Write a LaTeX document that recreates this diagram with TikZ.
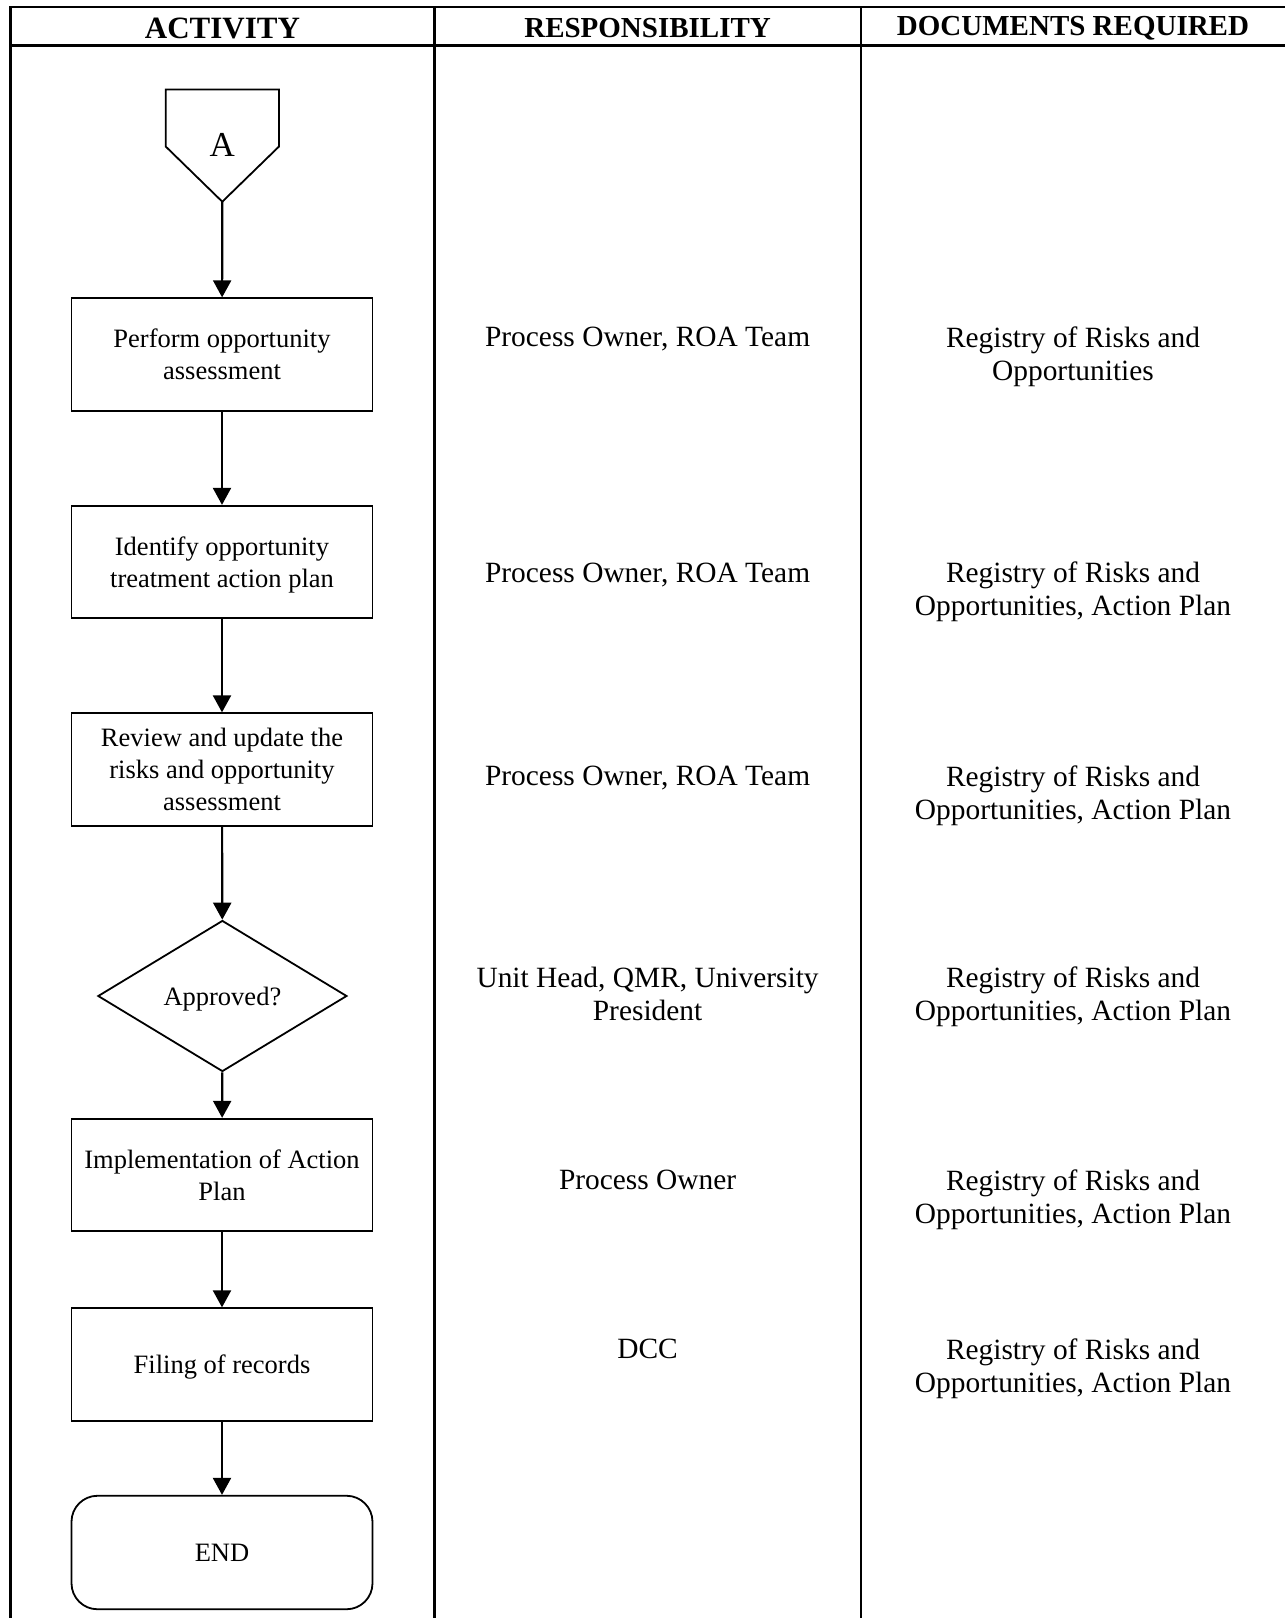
\documentclass[tikz,border=0pt]{standalone}
\usepackage{fontspec}
\setmainfont{Liberation Serif}
\usetikzlibrary{arrows.meta,shapes.geometric,positioning}

\begin{document}
\begin{tikzpicture}[x=1pt, y=-1pt,
    gridline/.style={line width=2.4pt},
    actbox/.style={draw, line width=1.8pt, minimum width=301pt, minimum height=112.5pt,
        align=center, inner sep=4pt, text depth=0pt, font=\fontsize{26.5}{32}\selectfont},
    flow/.style={line width=2.2pt, -{Triangle[width=18pt, length=17pt]}},
    coltext/.style={align=center, text depth=0pt, font=\fontsize{29.4}{33}\selectfont},
    headtext/.style={font=\fontsize{29}{33}\selectfont\bfseries}]
    \fill[white] (0,0) rectangle (1285,1618);
    \useasboundingbox (0,0) rectangle (1285,1618);
    % Table
    \draw[gridline] (10.3,1630) -- (10.3,7.2) -- (1300,7.2);
    \draw[gridline] (10.3,45.4) -- (1300,45.4);
    \draw[gridline] (434.5,7.2) -- (434.5,1630);
    \draw[gridline] (860.8,7.2) -- (860.8,1630);
    \node[headtext, font=\fontsize{31}{33}\selectfont\bfseries] (hAct) at (222.4,28.5) {ACTIVITY};
    \node[headtext] (hResp) at (647.6,28.5) {RESPONSIBILITY};
    \node[headtext] (hDocs) at (1073,28.5) {DOCUMENTS REQUIRED};
    % Off-page connector
    \node[font=\fontsize{35}{40}\selectfont] (conA) at (222.3,145) {A};
    \draw[line width=1.8pt] (165.7,89.5) -- (279,89.5) -- (279,146.5)
        -- (222.3,201.7) -- (165.7,146.5) -- cycle;
    \coordinate (conAtip) at (222.3,201.7);
    % Activities
    \node[actbox] (act1) at (222,354.5) {Perform opportunity\\assessment};
    \node[actbox] (act2) at (222,562) {Identify opportunity\\treatment action plan};
    \node[actbox] (act3) at (222,769.5) {Review and update the\\risks and opportunity\\assessment};
    \node[draw, diamond, line width=1.8pt, minimum width=249pt, minimum height=151pt,
        aspect=1.65, inner sep=0pt, text depth=0pt, font=\fontsize{26.5}{32}\selectfont] (dec) at (222.4,996) {Approved?};
    \node[actbox] (act5) at (222,1175) {Implementation of Action\\Plan};
    \node[actbox] (act6) at (222,1364.5) {Filing of records};
    \node[actbox, rounded corners=26pt, minimum height=113.5pt] (fin) at (222,1552.5) {END};
    % Arrows
    \draw[flow] (conAtip) -- (act1);
    \foreach \a/\b in {act1/act2, act2/act3, act3/dec, dec/act5, act5/act6, act6/fin}
        \draw[flow] (\a) -- (\b);
    % Responsibility and documents
    \foreach \i/\yr/\yd/\resp/\docs in {
        1/336.5/353.5/{Process Owner, ROA Team}/{Registry of Risks and\\Opportunities},
        2/572.8/588.3/{Process Owner, ROA Team}/{Registry of Risks and\\Opportunities, Action Plan},
        3/776.1/792.7/{Process Owner, ROA Team}/{Registry of Risks and\\Opportunities, Action Plan},
        4/993.9/993.9/{Unit Head, QMR, University\\President}/{Registry of Risks and\\Opportunities, Action Plan},
        5/1179.7/1196.2/{Process Owner}/{Registry of Risks and\\Opportunities, Action Plan},
        6/1348.9/1365.5/{DCC}/{Registry of Risks and\\Opportunities, Action Plan}}{
        \node[coltext] (resp\i) at (647.6,\yr) {\resp};
        \node[coltext] (docs\i) at (1073,\yd) {\docs};
    }
\end{tikzpicture}
\end{document}
